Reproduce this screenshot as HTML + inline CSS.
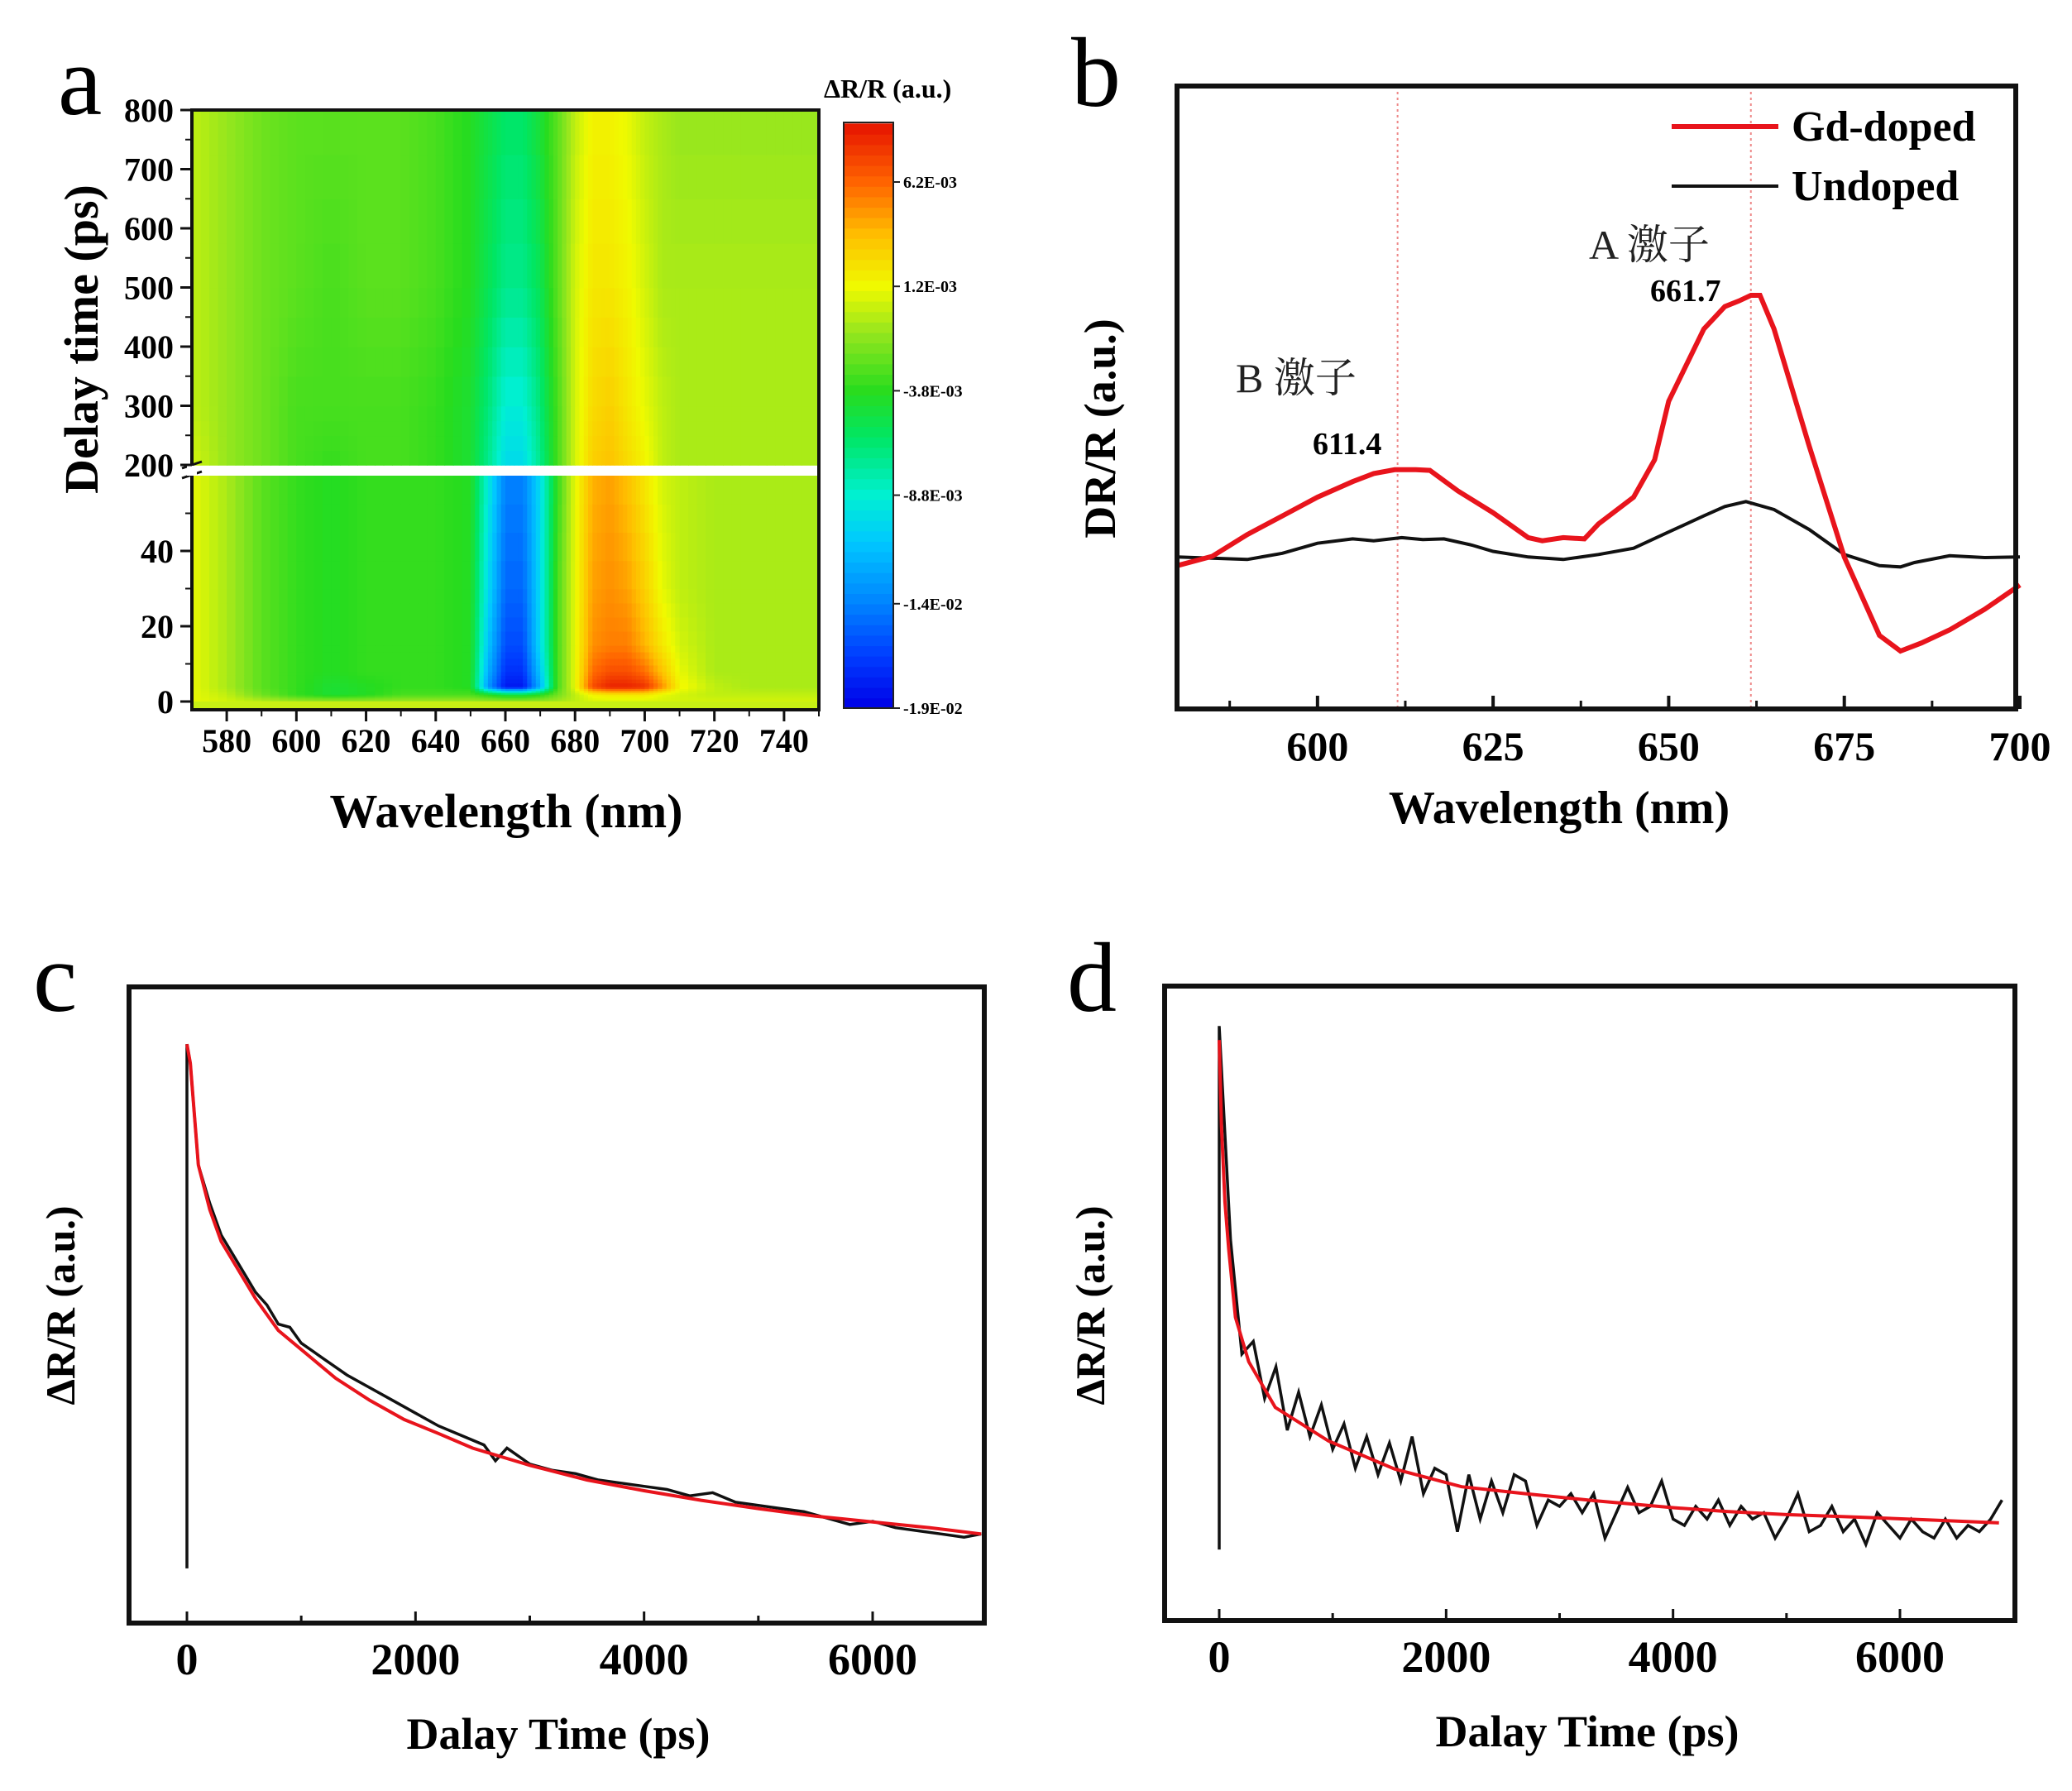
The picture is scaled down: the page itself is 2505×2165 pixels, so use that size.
<!DOCTYPE html>
<html><head><meta charset="utf-8"><style>
html,body{margin:0;padding:0;background:#fff;}
svg{display:block;font-family:"Liberation Serif","Noto Serif CJK SC",serif;}
</style></head><body>
<svg id="fig" width="2505" height="2165" viewBox="0 0 2505 2165" xmlns="http://www.w3.org/2000/svg">
<rect width="2505" height="2165" fill="#fff"/>
<g id="pa"></g>
<g id="pb"></g>
<g id="pc"></g>
<g id="pd"></g>
</svg>
<script>
// ---------- Panel a data ----------
const aWavelengths=[570,580,590,600,610,620,630,640,650,655,660,665,670,675,680,685,690,695,700,705,710,720,730,740,750];
const aTimes=[0,2,4,8,15,30,60,200,300,500,800];
const aRow0=[1,0.5,0,-0.5,-0.5,-0.5,-0.5,-0.5,-0.5,-0.5,-0.5,-0.5,-0.5,-0.5,0,0.5,0.5,0.5,0.5,0.5,0.5,0.5,0.5,0.5,0.5];
const aRow2=[1,0,-2,-3.5,-4.5,-4,-3,-3,-3,-4,-5,-5,-4,-2,0,1.5,2,2,2,1,0.5,0,0,0,0];
const aRow4=[1,-0.5,-2.5,-3.5,-4.5,-4,-3.5,-3.5,-4,-13,-18,-18,-12,-3,1,7,8.5,8.5,8,5,1.5,0,-0.5,-0.5,-0.5];
const aRow8=[1,-0.5,-2.5,-3.5,-4,-3.5,-3.5,-3.5,-4,-12,-17,-17,-11,-3,1,6,7,7,6,3.5,1,-0.5,-0.5,-0.5,-0.5];
const aRow15=[1,-0.5,-2.5,-3.5,-4,-3.5,-3.5,-3.5,-4,-11,-16,-16,-10,-3,1,5,5.5,5.5,4,2,0.5,-0.5,-0.5,-0.5,-0.5];
const aRow30=[1,-0.5,-2.5,-3.5,-4,-3.5,-3.5,-3.5,-4,-10,-15,-15,-10,-3,1,4.5,5,4.5,3,1,0,-0.5,-0.5,-0.5,-0.5];
const aRow60=[1,-0.5,-2.5,-3.5,-4,-3.5,-3.5,-3.5,-4,-9,-14,-14,-10,-3.5,1,4,4.5,3.5,2,0.5,0,-0.5,-0.5,-0.5,-0.5];
const aRow200=[0.5,-1,-2,-3,-3.5,-3,-3,-3.5,-4.5,-7,-10,-10,-7,-3,0.5,3,3.5,2.5,1.5,0,-0.5,-0.5,-0.5,-0.5,-0.5];
const aRow300=[0,-1,-2,-3,-3,-3,-3,-3.5,-4.5,-6.5,-9,-9,-6.5,-3,0.5,2.5,3,2,1,0,-0.5,-0.5,-0.5,-0.5,-0.5];
const aRow500=[0,-1,-2,-2.5,-3,-2.5,-2.5,-3,-4,-5.5,-7,-7,-5.5,-2.5,0.5,2,2,1.5,0.5,-0.5,-0.5,-0.5,-0.5,-0.5,-0.5];
const aRow800=[0,-1,-2,-2.5,-2.5,-2.5,-2.5,-3,-4,-5,-6,-6,-4.5,-2.5,0,1.5,1.5,1,0,-0.5,-1,-1,-1,-1,-1];
const aXTicks=[580,600,620,640,660,680,700,720,740];
const aYTicksUpper=[200,300,400,500,600,700,800];
const aYTicksLower=[0,20,40];
const aCbarLabels=["6.2E-03","1.2E-03","-3.8E-03","-8.8E-03","-1.4E-02","-1.9E-02"];
const aCbarValues=[6.2,1.2,-3.8,-8.8,-14,-19];
// ---------- Panel b data ----------
const bGdX=[580,585,590,595,600,605,608,611,614,616,620,625,630,632,635,638,640,645,648,650,655,658,660,661.7,663,665,670,675,680,683,686,690,695,700];
const bGdY=[23,24.5,28,31,34,36.5,37.8,38.4,38.4,38.3,35,31.5,27.5,27,27.5,27.3,29.7,34,40,49.4,61,64.6,65.5,66.4,66.4,61,42.2,24.4,11.8,9.3,10.6,12.7,16,19.9];
const bUnX=[580,585,590,595,600,605,608,612,615,618,622,625,630,635,640,645,650,655,658,661,665,670,675,680,683,685,690,695,700];
const bUnY=[24.4,24.2,24,25,26.6,27.3,27,27.5,27.2,27.3,26.3,25.3,24.4,24,24.8,25.8,28.4,31,32.5,33.3,32,28.8,24.8,23,22.8,23.5,24.6,24.3,24.4];
const bXTicks=[600,625,650,675,700];
const bMarkers=[611.4,661.7];
// ---------- Panel c data ----------
const cMeasT=[0,0,30,100,200,300,400,500,600,700,800,900,1000,1200,1400,1600,1800,2000,2200,2400,2600,2700,2800,3000,3200,3400,3600,3800,4000,4200,4400,4600,4800,5000,5200,5400,5600,5800,6000,6200,6400,6600,6800,6950];
const cMeasV=[8.6,91,88,72,66,61,58,55,52,50,47,46.5,44,41.5,39,37,35,33,31,29.5,28,25.5,27.5,25,24,23.5,22.5,22,21.5,21,20,20.5,19,18.5,18,17.5,16.5,15.5,16,15,14.5,14,13.5,14];
const cFitT=[0,30,100,200,300,450,600,800,1000,1300,1600,1900,2200,2500,3000,3500,4000,4500,5000,5500,6000,6500,6950];
const cFitV=[91,88,72,65,60,55.5,51,46,43,38.5,35,32,29.8,27.5,24.8,22.5,20.8,19.3,18,16.8,15.9,15,14];
// ---------- Panel d data ----------
const dMeasT=[0,0,100,200,300,400,500,600,700,800,900,1000,1100,1200,1300,1400,1500,1600,1700,1800,1900,2000,2100,2200,2300,2400,2500,2600,2700,2800,2900,3000,3100,3200,3300,3400,3500,3600,3700,3800,3900,4000,4100,4200,4300,4400,4500,4600,4700,4800,4900,5000,5100,5200,5300,5400,5500,5600,5700,5800,5900,6000,6100,6200,6300,6400,6500,6600,6700,6800,6900];
const dMeasV=[11.2,93.7,60,42,44,35,40,30,36,29,34,27,31,24,29,23,28,22,29,20,24,23,14,23,16,22,17,23,22,15,19,18,20,17,20,13,17,21,17,18,22,16,15,18,16,19,15,18,16,17,13,16,20,14,15,18,14,16,12,17,15,13,16,14,13,16,13,15,14,16,19];
const dFitT=[0,20,50,84,143,260,494,963,1545,2136,2700,3302,4000,4474,5000,5640,6200,6873];
const dFitV=[91.5,78,66,58.5,47.8,40.8,33.6,28.3,23.9,21.1,20,18.9,17.8,17.2,16.7,16.3,15.9,15.4];
const cdXTicks=[0,2000,4000,6000];
const cdMinorTicks=[1000,3000,5000];

const NS="http://www.w3.org/2000/svg";
function mk(parent,tag,attrs,text){const e=document.createElementNS(NS,tag);for(const k in attrs)e.setAttribute(k,attrs[k]);if(text!==undefined)e.textContent=text;parent.appendChild(e);return e;}
function lin(d0,d1,r0,r1){return v=>r0+(v-d0)*(r1-r0)/(d1-d0);}

// ===== Panel a =====
(function(){
const g=document.getElementById('pa');
const L=232,R=990,T=133,B=858;
const x=lin(570,750,L,R);
const yUp=lin(200,800,562,133), yLo=lin(0,60,848,575);
const yOf=t=>t>=200?yUp(t):yLo(t);
const rows=[aRow0,aRow2,aRow4,aRow8,aRow15,aRow30,aRow60,aRow200,aRow300,aRow500,aRow800];
const stops=[[-19,[0,0,230]],[-16.5,[0,60,255]],[-14,[0,130,255]],[-11,[0,200,255]],[-8.8,[0,240,210]],[-6,[0,230,100]],[-3.8,[40,220,30]],[-1,[150,230,30]],[1.2,[240,250,0]],[3.7,[255,190,0]],[6.2,[255,100,0]],[9,[230,20,0]]];
function col(v){if(v<=stops[0][0])return stops[0][1];for(let i=1;i<stops.length;i++){if(v<=stops[i][0]){const a=stops[i-1],b=stops[i];const f=(v-a[0])/(b[0]-a[0]);return a[1].map((c,k)=>Math.round(c+(b[1][k]-c)*f));}}return stops[stops.length-1][1];}
const hm=mk(g,'g',{});


const SX=4,SY=4;
for(let r=0;r<aTimes.length-1;r++){
 if(aTimes[r]===60)continue;
 for(let c=0;c<aWavelengths.length-1;c++){
  for(let i=0;i<SX;i++)for(let j=0;j<SY;j++){
   const fx=(i+0.5)/SX,fy=(j+0.5)/SY;
   const v=(rows[r][c]*(1-fx)+rows[r][c+1]*fx)*(1-fy)+(rows[r+1][c]*(1-fx)+rows[r+1][c+1]*fx)*fy;
   const x0=x(aWavelengths[c]+(aWavelengths[c+1]-aWavelengths[c])*i/SX), x1=x(aWavelengths[c]+(aWavelengths[c+1]-aWavelengths[c])*(i+1)/SX);
   const t0=aTimes[r]+(aTimes[r+1]-aTimes[r])*j/SY, t1=aTimes[r]+(aTimes[r+1]-aTimes[r])*(j+1)/SY;
   const y0=yOf(t1),y1=yOf(t0);
   const cc=col(v);
   const rc=mk(hm,'rect',{x:x0.toFixed(1),y:y0.toFixed(1),width:(x1-x0+0.8).toFixed(1),height:(y1-y0+0.8).toFixed(1),fill:`rgb(${cc})`});
   
   
  }
 }
}
// bottom strip below t=0
const bs=mk(g,'rect',{x:L,y:848,width:R-L,height:B-848,fill:'rgb(200,240,20)'});


const br=mk(g,'rect',{x:L,y:563,width:R-L,height:12,fill:'#fff'});


mk(g,'rect',{x:L,y:T,width:R-L,height:B-T,fill:'none',stroke:'#111','stroke-width':4});
mk(g,'path',{d:'M220,566 L244,558 M220,578 L244,570',stroke:'#111','stroke-width':3,fill:'none'});
mk(g,'rect',{x:226,y:563,width:12,height:12,fill:'#fff'});
aXTicks.forEach(t=>{
 mk(g,'line',{x1:x(t),x2:x(t),y1:B,y2:B+14,stroke:'#111','stroke-width':3});
 mk(g,'line',{x1:x(t+10),x2:x(t+10),y1:B,y2:B+8,stroke:'#111','stroke-width':2});
 const tl=mk(g,'text',{x:x(t),y:909,'text-anchor':'middle','font-size':40,'font-weight':'bold'},t);
 
 
});
aYTicksUpper.forEach(t=>{
 mk(g,'line',{x1:L-14,x2:L,y1:yUp(t),y2:yUp(t),stroke:'#111','stroke-width':3});
 if(t<800)mk(g,'line',{x1:L-8,x2:L,y1:yUp(t+50),y2:yUp(t+50),stroke:'#111','stroke-width':2});
 const tl=mk(g,'text',{x:L-22,y:yUp(t)+14,'text-anchor':'end','font-size':40,'font-weight':'bold'},t);
 
 
});
aYTicksLower.forEach(t=>{
 mk(g,'line',{x1:L-14,x2:L,y1:yLo(t),y2:yLo(t),stroke:'#111','stroke-width':3});
 mk(g,'line',{x1:L-8,x2:L,y1:yLo(t+10),y2:yLo(t+10),stroke:'#111','stroke-width':2});
 const tl=mk(g,'text',{x:L-22,y:yLo(t)+14,'text-anchor':'end','font-size':40,'font-weight':'bold'},t);
 
 
});
const xt=mk(g,'text',{x:612,y:1000,'text-anchor':'middle','font-size':58,'font-weight':'bold'},'Wavelength (nm)');


const yt=mk(g,'text',{x:0,y:0,transform:'translate(118,410) rotate(-90)','text-anchor':'middle','font-size':58,'font-weight':'bold'},'Delay time (ps)');


const lt=mk(g,'text',{x:70,y:138,'font-size':120},'a');


const cb=mk(g,'g',{});


const cy=lin(-19,6.2,856,220);
for(let v=-19;v<9;v+=0.5){const top=Math.max(cy(Math.min(v+0.5,9.03)),148);const cc=col(v+0.25);mk(cb,'rect',{x:1020,y:top.toFixed(1),width:60,height:(cy(v)-top+0.8).toFixed(1),fill:`rgb(${cc})`});}
mk(cb,'rect',{x:1020,y:148,width:60,height:708,fill:'none',stroke:'#222','stroke-width':2});
aCbarValues.forEach((v,i)=>{
 mk(cb,'line',{x1:1080,x2:1088,y1:cy(v),y2:cy(v),stroke:'#222','stroke-width':2});
 const tl=mk(cb,'text',{x:1092,y:cy(v)+7,'font-size':20,'font-weight':'bold'},aCbarLabels[i]);
 
 
});
const ct=mk(g,'text',{x:996,y:118,'font-size':32,'font-weight':'bold'},'ΔR/R  (a.u.)');


})();

// ===== Panel b =====
(function(){
const g=document.getElementById('pb');
const L=1423,R=2437,T=104,B=857;
const x=lin(580,700,L,R+5), y=lin(0,100,B,T);
bMarkers.forEach(m=>{
 const ml=mk(g,'line',{x1:x(m),x2:x(m),y1:T,y2:B,stroke:'#e88','stroke-width':2,'stroke-dasharray':'3,4'});
 
 
});
const un=mk(g,'polyline',{points:bUnX.map((v,i)=>x(v).toFixed(1)+','+y(bUnY[i]).toFixed(1)).join(' '),fill:'none',stroke:'#111','stroke-width':4});


const gd=mk(g,'polyline',{points:bGdX.map((v,i)=>x(v).toFixed(1)+','+y(bGdY[i]).toFixed(1)).join(' '),fill:'none',stroke:'#e8141c','stroke-width':6});


mk(g,'rect',{x:L,y:T,width:R-L,height:B-T,fill:'none',stroke:'#111','stroke-width':6});
bXTicks.forEach(t=>{
 mk(g,'line',{x1:x(t),x2:x(t),y1:B,y2:B-16,stroke:'#111','stroke-width':4});
 mk(g,'line',{x1:x(t-12.5),x2:x(t-12.5),y1:B,y2:B-10,stroke:'#111','stroke-width':3});
 const tl=mk(g,'text',{x:x(t),y:919,'text-anchor':'middle','font-size':50,'font-weight':'bold'},t);
 
 
});
const xt=mk(g,'text',{x:1885,y:995,'text-anchor':'middle','font-size':56,'font-weight':'bold'},'Wavelength (nm)');


const yt=mk(g,'text',{x:0,y:0,transform:'translate(1348,518) rotate(-90)','text-anchor':'middle','font-size':54,'font-weight':'bold'},'DR/R (a.u.)');


const lt=mk(g,'text',{x:1295,y:128,'font-size':120},'b');


const lg=mk(g,'g',{});


mk(lg,'line',{x1:2021,x2:2150,y1:153,y2:153,stroke:'#e8141c','stroke-width':6});
const l1=mk(lg,'text',{x:2166,y:170,'font-size':52,'font-weight':'bold'},'Gd-doped');


mk(lg,'line',{x1:2021,x2:2150,y1:225,y2:225,stroke:'#111','stroke-width':4});
const l2=mk(lg,'text',{x:2166,y:242,'font-size':52,'font-weight':'bold'},'Undoped');


const a1=mk(g,'text',{x:1921,y:313,'font-size':50,fill:'#222'},'A 激子');


const a2=mk(g,'text',{x:1995,y:364,'font-size':38,'font-weight':'bold'},'661.7');


const b1=mk(g,'text',{x:1494,y:474,'font-size':50,fill:'#222'},'B 激子');


const b2=mk(g,'text',{x:1587,y:549,'font-size':38,'font-weight':'bold'},'611.4');


})();

// ===== Panels c & d =====
function decay(id,box,x0px,pxPerPs,mT,mV,fT,fV,letter,lx,ytx,xtx){
 const g=document.getElementById(id);
 const [L,T,R,B]=box;
 const x=t=>x0px+t*pxPerPs, y=lin(0,100,B,T);
 const m=mk(g,'polyline',{points:mT.map((t,i)=>x(t).toFixed(1)+','+y(mV[i]).toFixed(1)).join(' '),fill:'none',stroke:'#111','stroke-width':3.5});
 
 
 const f=mk(g,'polyline',{points:fT.map((t,i)=>x(t).toFixed(1)+','+y(fV[i]).toFixed(1)).join(' '),fill:'none',stroke:'#e8141c','stroke-width':4});
 
 
 mk(g,'rect',{x:L,y:T,width:R-L,height:B-T,fill:'none',stroke:'#111','stroke-width':6});
 cdXTicks.forEach(t=>{
  mk(g,'line',{x1:x(t),x2:x(t),y1:B,y2:B-14,stroke:'#111','stroke-width':3});
  const tl=mk(g,'text',{x:x(t),y:B+62,'text-anchor':'middle','font-size':54,'font-weight':'bold'},t);
  
  
 });
 cdMinorTicks.forEach(t=>{mk(g,'line',{x1:x(t),x2:x(t),y1:B,y2:B-9,stroke:'#111','stroke-width':3});});
 const xt=mk(g,'text',{x:xtx,y:B+152,'text-anchor':'middle','font-size':54,'font-weight':'bold'},'Dalay Time (ps)');
 
 
 const yt=mk(g,'text',{x:0,y:0,transform:`translate(${ytx},1578) rotate(-90)`,'text-anchor':'middle','font-size':50,'font-weight':'bold'},'ΔR/R (a.u.)');
 
 
 const lt=mk(g,'text',{x:lx,y:1222,'font-size':120},letter);
 
 
}
decay('pc',[156,1193,1190,1962],226,829/6000,cMeasT,cMeasV,cFitT,cFitV,'c',40,90,675);
decay('pd',[1408,1192,2436,1959],1474,823/6000,dMeasT,dMeasV,dFitT,dFitV,'d',1290,1335,1919);
</script>
</body></html>
